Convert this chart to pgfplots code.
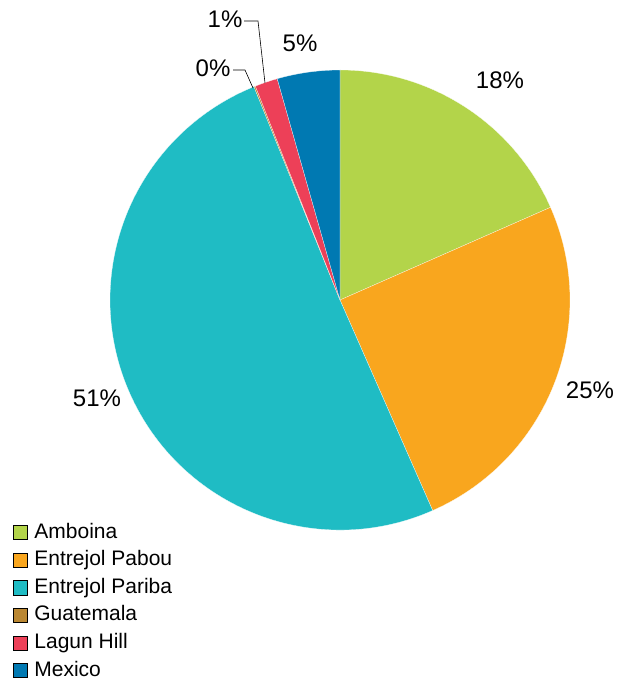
\documentclass[border=0pt]{standalone}
\usepackage{pgfplots}
\usepackage{pgfplotstable}
\usepackage{fontspec}
\setmainfont{Liberation Sans}
\pgfplotsset{compat=1.18}
\definecolor{c0}{RGB}{179,212,74}
\definecolor{c1}{RGB}{249,166,30}
\definecolor{c2}{RGB}{31,188,196}
\definecolor{c3}{RGB}{186,135,50}
\definecolor{c4}{RGB}{237,64,88}
\definecolor{c5}{RGB}{0,121,178}
\pgfplotstableread{
name value
Amboina 18.4
EntrejolPabou 25.0
EntrejolPariba 50.5
Guatemala 0.1
LagunHill 1.6
Mexico 4.4
}\piedata
\begin{document}
\begin{tikzpicture}
\useasboundingbox (0,0) rectangle (618pt,681pt);
\def\cum{0}
\pgfplotsforeachungrouped \i in {0,...,5}{%
  \pgfplotstablegetelem{\i}{value}\of\piedata
  \let\v\pgfplotsretval
  \pgfmathsetmacro\st{90-3.6*\cum}%
  \pgfmathsetmacro\cum{\cum+\v}%
  \pgfmathsetmacro\en{90-3.6*\cum}%
  \expandafter\xdef\csname sa\i\endcsname{\st}%
  \expandafter\xdef\csname ea\i\endcsname{\en}%
}
\begin{axis}[
  at={(0,0)}, anchor=south west,
  x=1pt, y=1pt, xmin=0, xmax=618, ymin=0, ymax=681,
  scale only axis, hide axis, clip=false,
  legend cell align=left,
  legend image code/.code={\fill[#1] (0pt,-7pt) rectangle (14pt,7pt);},
  legend style={at={(axis cs:13,158)}, anchor=north west, draw=none, fill=none,
    inner sep=0pt, outer sep=0pt, row sep=8.6pt, column sep=7pt,
    font=\fontsize{21}{21}\selectfont,
    nodes={inner sep=0pt, outer sep=0pt, text height=15pt, text depth=4pt}},
]
\pgfplotsinvokeforeach{0,...,5}{%
  \fill[c#1, draw=white, line width=0.2pt] (axis cs:340,381) -- ++(\csname sa#1\endcsname:230pt)
     arc[start angle=\csname sa#1\endcsname, end angle=\csname ea#1\endcsname, radius=230pt] -- cycle;
}
\addlegendimage{fill=c0}\addlegendentry{Amboina}
\addlegendimage{fill=c1}\addlegendentry{Entrejol Pabou}
\addlegendimage{fill=c2}\addlegendentry{Entrejol Pariba}
\addlegendimage{fill=c3}\addlegendentry{Guatemala}
\addlegendimage{fill=c4}\addlegendentry{Lagun Hill}
\addlegendimage{fill=c5}\addlegendentry{Mexico}
\begin{scope}[every node/.style={font=\fontsize{24}{24}\selectfont, inner sep=0pt}]
\node at (axis cs:500,601) {18\%};
\node at (axis cs:590,291) {25\%};
\node at (axis cs:97,283) {51\%};
\node at (axis cs:300,638) {5\%};
\node at (axis cs:213,613) {0\%};
\node at (axis cs:225,662) {1\%};
\end{scope}
\draw[black, line width=0.6pt] (axis cs:233,611) -- (axis cs:245,611) -- (axis cs:253,593);
\draw[black, line width=0.6pt] (axis cs:244,660) -- (axis cs:258,660) -- (axis cs:265,598);
\end{axis}
\end{tikzpicture}
\end{document}
